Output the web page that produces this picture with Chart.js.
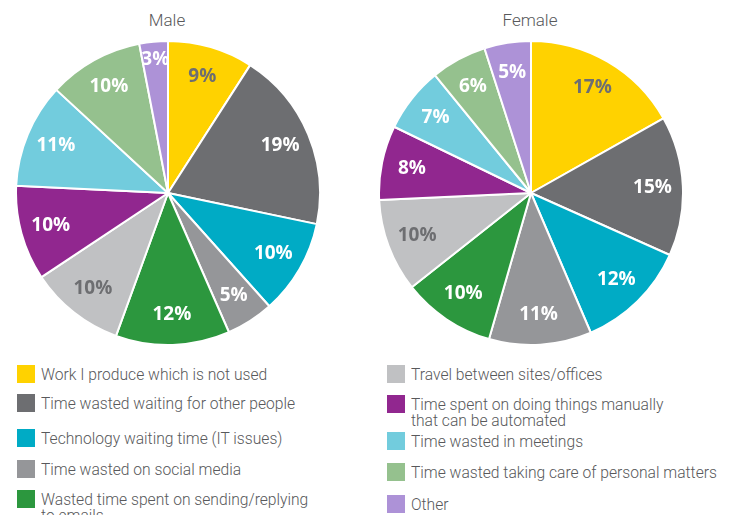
<!DOCTYPE html>
<html>
<head>
<meta charset="utf-8">
<script src="https://cdn.jsdelivr.net/npm/chart.js@4"></script>
<style>
  html, body { margin: 0; padding: 0; background: #fff; }
  #page { position: relative; width: 729px; height: 515px; overflow: hidden; font-family: "Roboto", sans-serif; }
  .pie { position: absolute; width: 306px; height: 306px; top: 40px; }
  .ttl { position: absolute; top: 10px; width: 200px; text-align: center; font-size: 17px; font-weight: 300; color: #58595b; }
  .item { position: absolute; font-size: 17px; font-weight: 300; line-height: 16px; color: #58595b; }
  .item .sw { position: absolute; left: 0; top: 1px; width: 18px; height: 18px; }
  .item .tx { position: absolute; left: 24px; top: 2px; white-space: nowrap; transform: scaleX(0.92); transform-origin: left top; }
</style>
</head>
<body>
<div id="page">
  <div class="ttl" style="left:67px">Male</div>
  <div class="ttl" style="left:430px">Female</div>
  <div class="pie" style="left:15px"><canvas id="male"></canvas></div>
  <div class="pie" style="left:378px"><canvas id="female"></canvas></div>
  <div id="legend"></div>
</div>
<script>
const categories = [
  "Work I produce which is not used",
  "Time wasted waiting for other people",
  "Technology waiting time (IT issues)",
  "Time wasted on social media",
  "Wasted time spent on sending/replying\nto emails",
  "Travel between sites/offices",
  "Time spent on doing things manually\nthat can be automated",
  "Time wasted in meetings",
  "Time wasted taking care of personal matters",
  "Other"
];
const maleValues = [9, 19, 10, 5, 12, 10, 10, 11, 10, 3];
const femaleValues = [17, 15, 12, 11, 10, 10, 8, 7, 6, 5];

const colors = ["#ffd200", "#6d6e71", "#00abc5", "#959699", "#2c973e",
                "#c0c1c3", "#91278f", "#72ccdd", "#95c18e", "#ad92d7"];
const labelColors = ["#6d6e71", "#fff", "#fff", "#fff", "#fff",
                     "#6d6e71", "#fff", "#fff", "#fff", "#fff"];

// legend positions: [left, top]
const legendPos = [[17, 364], [17, 393], [17, 428], [17, 459], [17, 489],
                   [387, 364], [387, 394], [387, 431], [387, 462], [387, 494]];

const legend = document.getElementById('legend');
categories.forEach((c, i) => {
  const d = document.createElement('div');
  d.className = 'item';
  d.style.left = legendPos[i][0] + 'px';
  d.style.top = legendPos[i][1] + 'px';
  d.innerHTML = '<div class="sw" style="background:' + colors[i] + '"></div><div class="tx">' +
    c.replace('\n', '<br>') + '</div>';
  legend.appendChild(d);
});

const sliceLabels = {
  id: 'sliceLabels',
  afterDatasetsDraw(chart) {
    const ctx = chart.ctx;
    const vals = chart.data.datasets[0].data;
    ctx.save();
    ctx.font = 'bold 19px "Open Sans", sans-serif';
    ctx.textAlign = 'center';
    ctx.textBaseline = 'middle';
    chart.getDatasetMeta(0).data.forEach((arc, i) => {
      const p = arc.getProps(['x', 'y', 'startAngle', 'endAngle', 'outerRadius'], true);
      const a = (p.startAngle + p.endAngle) / 2;
      const r = p.outerRadius * (vals[i] < 4 ? 0.88 : 0.8);
      ctx.fillStyle = labelColors[i];
      ctx.fillText(vals[i] + '%', p.x + Math.cos(a) * r, p.y + Math.sin(a) * r);
    });
    ctx.restore();
  }
};

function makePie(id, values) {
  return new Chart(document.getElementById(id), {
    type: 'pie',
    data: {
      labels: categories,
      datasets: [{
        data: values,
        backgroundColor: colors,
        borderColor: '#fff',
        borderWidth: 2
      }]
    },
    options: {
      responsive: true,
      maintainAspectRatio: false,
      animation: false,
      plugins: { legend: { display: false }, tooltip: { enabled: false } }
    },
    plugins: [sliceLabels]
  });
}

window.maleChart = makePie('male', maleValues);
window.femaleChart = makePie('female', femaleValues);
</script>
</body>
</html>
